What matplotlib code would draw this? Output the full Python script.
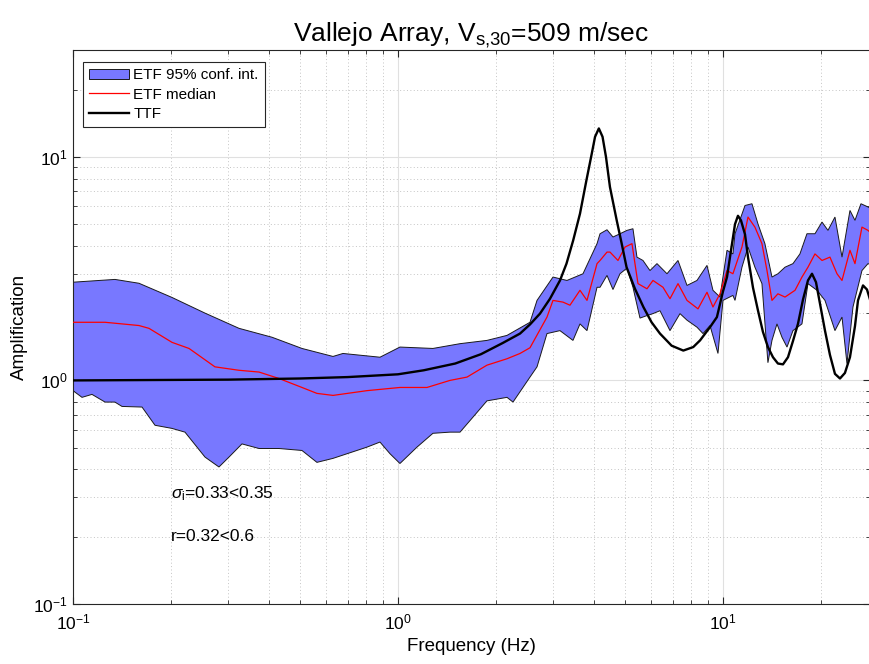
import numpy as np
import matplotlib
matplotlib.use('Agg')
import matplotlib.pyplot as plt
from matplotlib.ticker import LogLocator, NullFormatter

plt.rcParams['font.family'] = ['Liberation Sans', 'DejaVu Sans']
plt.rcParams['mathtext.fontset'] = 'custom'
plt.rcParams['mathtext.rm'] = 'Liberation Sans'
plt.rcParams['mathtext.it'] = 'Liberation Sans:italic'

# ETF 95% confidence interval, upper bound (Hz, amplification)
f_upper = [0.100, 0.1346, 0.1596, 0.2017, 0.2548, 0.3242, 0.4096, 0.5065, 0.631,
           0.6772, 0.8803, 1.014, 1.281, 1.552, 1.878, 2.165, 2.548, 2.678, 2.999,
           3.311, 3.709, 4.097, 4.185, 4.397, 4.587, 4.821, 5.066, 5.285, 5.437,
           5.673, 5.962, 6.265, 6.726, 7.271, 7.750, 8.318, 8.930, 9.316, 9.790,
           10.29, 10.73, 10.89, 11.69, 12.28, 12.81, 13.46, 14.15, 14.76, 15.52,
           16.42, 17.25, 18.13, 19.19, 20.17, 21.04, 22.11, 23.24, 24.59, 25.48,
           26.58, 27.94, 28.34]
a_upper = [2.75, 2.83, 2.72, 2.35, 2.0, 1.71, 1.56, 1.39, 1.28,
           1.32, 1.27, 1.41, 1.39, 1.46, 1.51, 1.59, 1.82, 2.28, 2.90,
           2.80, 3.00, 4.09, 4.53, 4.72, 4.38, 4.53, 4.69, 4.77, 3.56,
           3.44, 3.10, 3.33, 3.00, 3.44, 2.66, 2.80, 3.27, 2.53, 2.36,
           3.82, 3.68, 4.53, 6.06, 6.17, 5.02, 4.09, 2.90, 3.00, 3.21,
           3.33, 3.68, 4.53, 4.53, 5.11, 4.69, 5.38, 3.56, 5.76, 5.20,
           6.17, 5.97, 5.90]

# ETF 95% confidence interval, lower bound
f_lower = [0.100, 0.1066, 0.1144, 0.1255, 0.1346, 0.1415, 0.1631, 0.1788, 0.2017,
           0.2211, 0.2548, 0.2813, 0.302, 0.3311, 0.3736, 0.4303, 0.5065, 0.5631,
           0.631, 0.8028, 0.8803, 0.9449, 1.014, 1.144, 1.281, 1.445, 1.552, 1.701,
           1.878, 2.165, 2.259, 2.548, 2.678, 2.874, 3.151, 3.455, 3.631, 3.816,
           4.097, 4.185, 4.397, 4.587, 4.821, 5.066, 5.285, 5.554, 5.837, 6.090,
           6.400, 6.870, 7.375, 7.750, 8.318, 8.680, 9.120, 9.652, 10.0, 10.73,
           10.89, 11.44, 11.94, 12.54, 13.18, 13.75, 14.15, 14.66, 15.19, 15.74,
           16.42, 17.50, 18.26, 19.47, 20.60, 22.11, 23.24, 24.07, 25.12, 26.77,
           27.94, 28.34]
a_lower = [0.90, 0.84, 0.866, 0.80, 0.80, 0.765, 0.76, 0.63, 0.61,
           0.587, 0.454, 0.41, 0.454, 0.52, 0.496, 0.496, 0.486, 0.43,
           0.448, 0.503, 0.53, 0.47, 0.425, 0.503, 0.58, 0.587, 0.587, 0.685,
           0.81, 0.84, 0.80, 1.035, 1.15, 1.62, 1.67, 1.51, 1.79, 1.67,
           2.61, 2.61, 2.95, 2.55, 3.00, 3.18, 2.61, 1.90, 1.95, 1.99,
           2.05, 1.67, 1.99, 1.86, 1.73, 1.62, 1.76, 1.32, 2.28, 2.40,
           2.28, 3.21, 3.95, 3.21, 2.71, 1.20, 1.51, 1.79, 1.56, 1.41,
           1.67, 1.79, 2.71, 2.53, 2.28, 1.67, 1.92, 1.19, 2.13, 3.10,
           3.33, 3.30]

# ETF median
f_median = [0.100, 0.1255, 0.1596, 0.1713, 0.2017, 0.2275, 0.2734, 0.3242, 0.3736,
            0.4303, 0.5065, 0.5631, 0.631, 0.8028, 1.014, 1.228, 1.445, 1.631,
            1.878, 2.165, 2.374, 2.548, 2.874, 2.999, 3.219, 3.382, 3.631, 3.816,
            4.097, 4.185, 4.397, 4.491, 4.753, 4.995, 5.248, 5.476, 5.837, 6.090,
            6.538, 6.870, 7.271, 7.750, 8.378, 8.930, 9.316, 9.790, 10.29, 10.73,
            11.44, 11.94, 12.54, 13.18, 13.66, 14.15, 14.76, 15.52, 16.66, 17.50,
            18.26, 19.19, 20.17, 21.34, 22.43, 23.24, 24.59, 25.48, 26.77, 27.94,
            28.34]
a_median = [1.82, 1.82, 1.76, 1.71, 1.48, 1.39, 1.15, 1.11, 1.09,
            1.02, 0.93, 0.875, 0.857, 0.90, 0.93, 0.93, 1.0, 1.035,
            1.17, 1.25, 1.32, 1.40, 1.92, 2.28, 2.24, 2.17, 2.53, 2.28,
            3.33, 3.44, 3.75, 3.75, 3.44, 3.95, 4.09, 2.71, 2.57, 2.80,
            2.61, 2.32, 2.71, 2.28, 2.09, 2.48, 2.13, 2.44, 3.10, 3.00,
            3.95, 5.38, 4.85, 4.09, 3.10, 2.28, 2.44, 2.36, 2.53, 2.90,
            3.21, 3.68, 3.44, 3.56, 3.00, 2.80, 3.82, 3.33, 4.85, 4.69,
            4.60]

# theoretical transfer function
f_ttf = [0.100, 0.30, 0.50, 0.70, 1.00, 1.20, 1.50, 1.80, 2.10, 2.374,
         2.548, 2.735, 2.936, 3.151, 3.30, 3.46, 3.631, 3.80, 3.945, 4.04,
         4.15, 4.26, 4.365, 4.49, 4.71, 4.88, 5.05, 5.36, 5.69, 6.03,
         6.40, 6.95, 7.55, 8.10, 8.50, 9.12, 9.58, 10.0, 10.29, 10.58,
         10.89, 11.12, 11.36, 11.69, 11.94, 12.37, 12.81, 13.27, 13.75, 14.25,
         14.76, 15.30, 15.85, 16.42, 17.01, 17.63, 18.26, 18.79, 19.33, 19.89,
         20.60, 21.34, 22.11, 22.91, 23.73, 24.59, 25.48, 26.03, 26.97, 27.74,
         28.34]
a_ttf = [1.00, 1.008, 1.02, 1.035, 1.065, 1.11, 1.19, 1.31, 1.47, 1.62,
         1.78, 1.99, 2.32, 2.80, 3.33, 4.23, 5.57, 7.85, 10.3, 12.3,
         13.4, 12.3, 10.0, 7.33, 5.20, 4.09, 3.21, 2.57, 2.13, 1.82,
         1.62, 1.43, 1.36, 1.41, 1.51, 1.73, 1.92, 2.50, 2.90, 3.80,
         5.00, 5.45, 5.20, 4.50, 3.56, 2.60, 2.06, 1.65, 1.41, 1.27,
         1.19, 1.18, 1.27, 1.50, 1.79, 2.30, 2.80, 3.00, 2.75, 2.20,
         1.67, 1.30, 1.07, 1.02, 1.08, 1.27, 1.75, 2.28, 2.66, 2.55,
         2.30]


fig = plt.figure(figsize=(8.7, 6.64), dpi=100)
ax = fig.add_axes([0.0839, 0.0904, 0.9161, 0.834])

poly_f = np.r_[f_upper, f_lower[::-1]]
poly_a = np.r_[a_upper, a_lower[::-1]]
ax.fill(poly_f, poly_a, facecolor='#7878ff', edgecolor='#1a1a1a',
        linewidth=0.7, label='ETF 95% conf. int.', zorder=2)
ax.plot(f_median, a_median, color='#ff0000', linewidth=0.9,
        label='ETF median', zorder=3)
ax.plot(f_ttf, a_ttf, color='black', linewidth=1.7, label='TTF', zorder=4)

ax.set_xscale('log')
ax.set_yscale('log')
ax.set_xlim(0.1, 28.34)
ax.set_ylim(0.1, 30)

ax.xaxis.set_minor_locator(LogLocator(base=10, subs=np.arange(2, 10)))
ax.yaxis.set_minor_locator(LogLocator(base=10, subs=np.arange(2, 10)))
ax.xaxis.set_minor_formatter(NullFormatter())
ax.yaxis.set_minor_formatter(NullFormatter())
ax.tick_params(which='both', direction='in', top=True, right=True,
               labelsize=12.5, color='#262626')
ax.tick_params(which='major', length=5)
ax.tick_params(which='minor', length=3)
ax.tick_params(axis='x', pad=6)

ax.grid(True, which='major', color='#e0e0e0', linestyle='-', linewidth=0.8)
ax.grid(True, which='minor', color='#c4c4c4', linestyle=(0, (1, 2.5)),
        linewidth=0.7)
ax.set_axisbelow(True)
for s in ax.spines.values():
    s.set_color('#262626')
    s.set_linewidth(0.8)

ax.set_xlabel('Frequency (Hz)', fontsize=13.5)
ax.set_ylabel('Amplification', fontsize=13.5)
ax.set_title('Vallejo Array, V$_{\\rm s{,}30}$=509 m/sec', fontsize=19, pad=4)

ax.text(0.2, 0.31, '$\\sigma_{\\rm i}$=0.33<0.35', fontsize=12.5,
        ha='left', va='center')
ax.text(0.2, 0.2, 'r=0.32<0.6', fontsize=12.5, ha='left', va='center')

leg = ax.legend(loc='upper left', bbox_to_anchor=(0.0125, 0.978),
                borderaxespad=0, fontsize=11, fancybox=False,
                edgecolor='#262626', framealpha=1, handlelength=2.6,
                handletextpad=0.3, borderpad=0.4, labelspacing=0.35)
leg.get_frame().set_linewidth(0.8)

fig.savefig('out.png', dpi=100)
plt.close(fig)
